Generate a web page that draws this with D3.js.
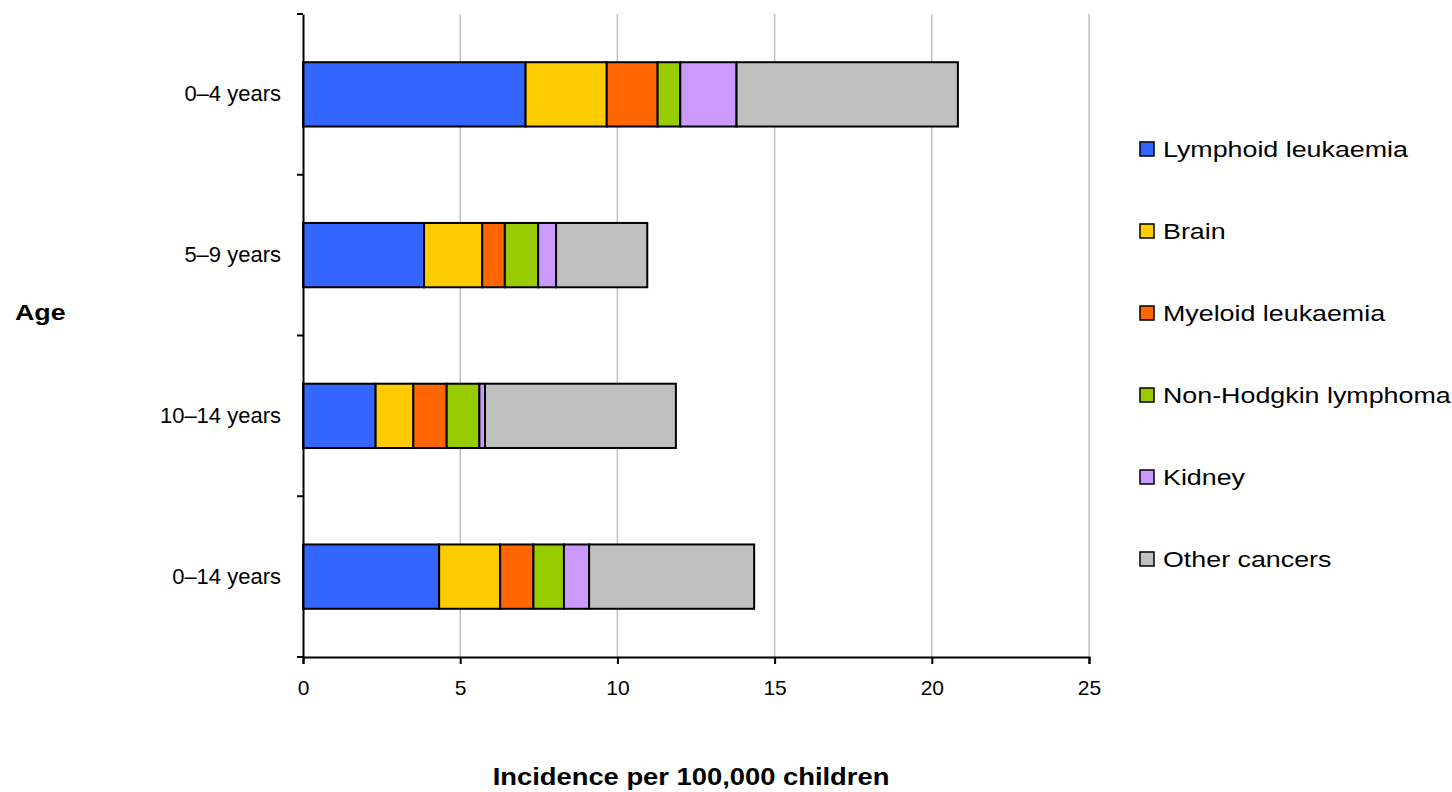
<!DOCTYPE html>
<html><head><meta charset="utf-8">
<script src="https://cdn.jsdelivr.net/npm/d3@7"></script>
<style>body{margin:0;background:#fff}svg{display:block}</style>
</head><body>
<svg id="c" width="1452" height="792"></svg>
<script>
const categories = ["0–4 years","5–9 years","10–14 years","0–14 years"];
const seriesNames = ["Lymphoid leukaemia","Brain","Myeloid leukaemia","Non-Hodgkin lymphoma","Kidney","Other cancers"];
const lymphoid = [7.08, 3.85, 2.31, 4.33];
const brain    = [2.58, 1.85, 1.20, 1.94];
const myeloid  = [1.62, 0.72, 1.06, 1.06];
const nhl      = [0.72, 1.06, 1.04, 0.97];
const kidney   = [1.79, 0.57, 0.18, 0.80];
const other    = [7.04, 2.90, 6.07, 5.25];
const xTicks = [0,5,10,15,20,25];
const colors = ["#3366ff","#ffcc00","#ff6600","#99cc00","#cc99ff","#c0c0c0"];

(function(){
const seriesVals = [lymphoid, brain, myeloid, nhl, kidney, other];
const rows = categories.map((c,i)=>{const o={cat:c}; seriesNames.forEach((s,j)=>o[s]=seriesVals[j][i]); return o;});
const stack = d3.stack().keys(seriesNames)(rows);

const svg = d3.select("#c");
const font = "Liberation Sans, Arial, sans-serif";
const pLeft=303, pRight=1089, pTop=14, pBottom=657;
const x = d3.scaleLinear().domain([0,25]).range([pLeft,pRight]);
const y = d3.scaleBand().domain(categories).range([pTop,pBottom]).paddingInner(0.6).paddingOuter(0.3);
const yb = d3.scaleBand().domain(categories).range([pTop,pBottom]);

svg.append("g").selectAll("line").data(xTicks.filter(d=>d>0)).join("line")
  .attr("x1",d=>x(d)).attr("x2",d=>x(d)).attr("y1",pTop).attr("y2",pBottom)
  .attr("stroke","#c0c0c0").attr("stroke-width",1.5);

svg.append("g").selectAll("g").data(stack).join("g")
  .attr("fill",(d,i)=>colors[i])
  .selectAll("rect").data(d=>d).join("rect")
  .attr("x",d=>x(d[0])).attr("width",d=>x(d[1])-x(d[0]))
  .attr("y",d=>y(d.data.cat)).attr("height",y.bandwidth())
  .attr("stroke","#000").attr("stroke-width",2);

const xa = svg.append("g").attr("transform",`translate(0,${pBottom})`)
  .call(d3.axisBottom(x).tickValues(xTicks).tickSize(7).tickPadding(16));
xa.select(".domain").attr("stroke","#000").attr("stroke-width",2);
xa.selectAll(".tick line").attr("stroke","#000").attr("stroke-width",2);
xa.selectAll("text").attr("font-family",font).attr("font-size",21).attr("fill","#000");

const ya = svg.append("g").attr("transform",`translate(${pLeft},0)`)
  .call(d3.axisLeft(yb).tickSize(0).tickPadding(22));
ya.select(".domain").attr("stroke","#000").attr("stroke-width",2);
ya.selectAll("text").attr("font-family",font).attr("font-size",22).attr("fill","#000");
const bounds = categories.map(c=>yb(c)).concat([pBottom]);
svg.append("g").selectAll("line").data(bounds).join("line")
  .attr("x1",pLeft-6).attr("x2",pLeft).attr("y1",d=>d).attr("y2",d=>d)
  .attr("stroke","#000").attr("stroke-width",2);

svg.append("text").attr("transform","translate(691,785) scale(1.14,1)").attr("text-anchor","middle")
  .attr("font-family",font).attr("font-size",24).attr("font-weight","bold").text("Incidence per 100,000 children");
svg.append("text").attr("transform","translate(15,320) scale(1.22,1)")
  .attr("font-family",font).attr("font-size",22).attr("font-weight","bold").text("Age");

const lg = svg.append("g").selectAll("g").data(seriesNames).join("g")
  .attr("transform",(d,i)=>`translate(1140,${149+i*82})`);
lg.append("rect").attr("x",0).attr("y",-7).attr("width",14).attr("height",14)
  .attr("fill",(d,i)=>colors[i]).attr("stroke","#000").attr("stroke-width",1.5);
lg.append("text").attr("transform","translate(23,8) scale(1.22,1)").attr("font-family",font).attr("font-size",22)
  .attr("fill","#000").text(d=>d);
})();
</script>
</body></html>
